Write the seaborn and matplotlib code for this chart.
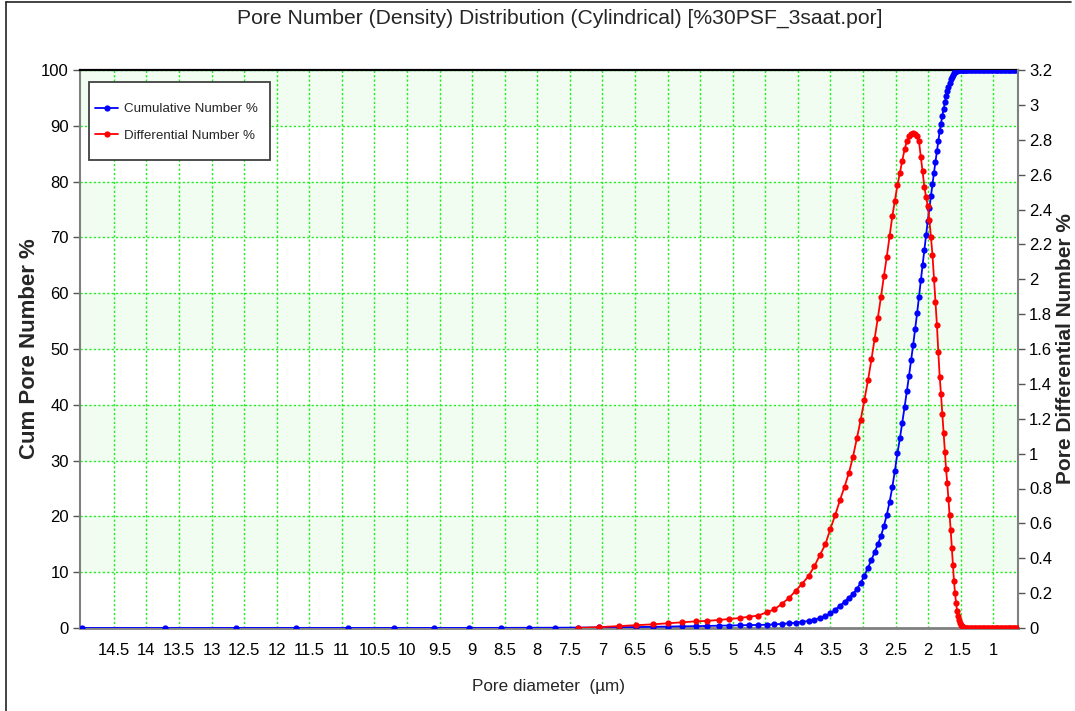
import matplotlib
matplotlib.use("Agg")
import matplotlib.pyplot as plt
from matplotlib import font_manager
from matplotlib.lines import Line2D
from matplotlib.patches import Rectangle
import seaborn as sns
import pandas as pd

# ---------------- data ----------------
diameter = [14.99, 13.71, 12.62, 11.70, 10.90, 10.20, 9.59, 9.05, 8.56, 8.13, 7.73,
            7.38, 7.05, 6.75, 6.48, 6.23, 5.99, 5.78, 5.57, 5.39, 5.21,
            5.05, 4.89, 4.75, 4.61, 4.48, 4.36, 4.24, 4.13, 4.03, 3.93,
            3.835, 3.745, 3.659, 3.577, 3.499, 3.424, 3.352, 3.283, 3.217, 3.154,
            3.093, 3.034, 2.977, 2.923, 2.870, 2.820, 2.771, 2.723, 2.678, 2.634,
            2.591, 2.550, 2.510, 2.471, 2.433, 2.397, 2.361, 2.327, 2.293, 2.261,
            2.229, 2.199, 2.169, 2.140, 2.111, 2.084, 2.057, 2.031, 2.005, 1.981,
            1.956, 1.933, 1.910, 1.887, 1.865, 1.843, 1.822, 1.802, 1.782, 1.762,
            1.743, 1.724, 1.706, 1.688, 1.670, 1.653, 1.636, 1.619, 1.603, 1.587,
            1.571, 1.556, 1.541, 1.526, 1.512, 1.498, 1.484, 1.470, 1.457, 1.444, 1.431, 1.418]

cum_number = [0, 0, 0, 0, 0, 0, 0, 0.01, 0.02, 0.03, 0.05,
              0.07, 0.10, 0.13, 0.17, 0.21, 0.25, 0.29, 0.33, 0.37, 0.41,
              0.44, 0.47, 0.50, 0.53, 0.58, 0.65, 0.74, 0.84, 0.95, 1.10,
              1.28, 1.50, 1.80, 2.15, 2.60, 3.30, 4.00, 4.70, 5.40, 6.10,
              7.0, 8.1, 9.4, 10.8, 12.2, 13.6, 15.0, 16.5, 18.3, 20.3,
              22.6, 25.2, 28.2, 31.3, 34.0, 36.8, 39.6, 42.4, 45.2, 48.0,
              50.8, 53.6, 56.4, 59.4, 62.4, 65.1, 67.8, 70.5, 73.0, 75.2,
              77.4, 79.5, 81.6, 83.6, 85.5, 87.3, 89.0, 90.4, 91.8, 93.0,
              94.2, 95.3, 96.2, 97.0, 97.7, 98.3, 98.8, 99.15, 99.4, 99.6,
              99.75, 99.85, 99.92, 99.96, 99.98, 100, 100, 100, 100, 100, 100, 100]

diff_number = [None, None, None, None, None, None, None, None, None, None, None,
               0.0, 0.005, 0.011, 0.017, 0.021, 0.027, 0.032, 0.038, 0.041, 0.046,
               0.052, 0.057, 0.065, 0.071, 0.090, 0.107, 0.140, 0.174, 0.215, 0.255,
               0.298, 0.355, 0.420, 0.480, 0.570, 0.650, 0.735, 0.810, 0.888, 0.980,
               1.090, 1.195, 1.310, 1.420, 1.540, 1.660, 1.780, 1.900, 2.020, 2.130,
               2.250, 2.360, 2.450, 2.540, 2.610, 2.680, 2.745, 2.790, 2.820, 2.835,
               2.840, 2.835, 2.820, 2.790, 2.700, 2.620, 2.530, 2.470, 2.420, 2.340,
               2.240, 2.140, 2.000, 1.870, 1.740, 1.580, 1.440, 1.340, 1.230, 1.120,
               1.010, 0.910, 0.830, 0.740, 0.650, 0.560, 0.460, 0.360, 0.270, 0.200,
               0.145, 0.100, 0.068, 0.045, 0.028, 0.017, 0.010, 0.006, 0.003, 0.001, 0.0, 0.0]

diameter_tail = [1.40, 1.38, 1.36, 1.34, 1.32, 1.30, 1.28, 1.26, 1.24, 1.22,
                 1.20, 1.18, 1.16, 1.14, 1.12, 1.10, 1.08, 1.06, 1.04, 1.02,
                 1.00, 0.98, 0.96, 0.94, 0.92, 0.90, 0.88, 0.86, 0.84, 0.82,
                 0.80, 0.78, 0.76, 0.74, 0.72, 0.70, 0.68, 0.66, 0.64, 0.62]
cum_tail = [100, 100, 100, 100, 100, 100, 100, 100, 100, 100,
            100, 100, 100, 100, 100, 100, 100, 100, 100, 100,
            100, 100, 100, 100, 100, 100, 100, 100, 100, 100,
            100, 100, 100, 100, 100, 100, 100, 100, 100, 100]
diff_tail = [0, 0, 0, 0, 0, 0, 0, 0, 0, 0,
             0, 0, 0, 0, 0, 0, 0, 0, 0, 0,
             0, 0, 0, 0, 0, 0, 0, 0, 0, 0,
             0, 0, 0, 0, 0, 0, 0, 0, 0, 0]

x_ticks = [14.5, 14, 13.5, 13, 12.5, 12, 11.5, 11, 10.5, 10, 9.5, 9, 8.5, 8, 7.5,
           7, 6.5, 6, 5.5, 5, 4.5, 4, 3.5, 3, 2.5, 2, 1.5, 1]
x_tick_labels = ["14.5", "14", "13.5", "13", "12.5", "12", "11.5", "11", "10.5", "10",
                 "9.5", "9", "8.5", "8", "7.5", "7", "6.5", "6", "5.5", "5", "4.5",
                 "4", "3.5", "3", "2.5", "2", "1.5", "1"]
left_ticks = [0, 10, 20, 30, 40, 50, 60, 70, 80, 90, 100]
right_ticks = [0, 0.2, 0.4, 0.6, 0.8, 1, 1.2, 1.4, 1.6, 1.8, 2, 2.2, 2.4, 2.6, 2.8, 3, 3.2]
right_tick_labels = ["0", "0.2", "0.4", "0.6", "0.8", "1", "1.2", "1.4", "1.6", "1.8",
                     "2", "2.2", "2.4", "2.6", "2.8", "3", "3.2"]

title_text = "Pore Number (Density) Distribution (Cylindrical) [%30PSF_3saat.por]"
x_label = "Pore diameter  (\u00b5m)"
left_label = "Cum Pore Number %"
right_label = "Pore Differential Number %"
series_names = ["Cumulative Number %", "Differential Number %"]

# ---------------- styling ----------------
sns.set_style("white")
available = {f.name for f in font_manager.fontManager.ttflist}
if "Liberation Sans Narrow" in available:
    plt.rcParams["font.family"] = ["Liberation Sans Narrow", "Liberation Sans", "DejaVu Sans"]
    tick_fs, title_fs, xlab_fs, leg_fs = 14.0, 18.0, 14.5, 11.5
else:
    plt.rcParams["font.family"] = ["Liberation Sans", "DejaVu Sans"]
    tick_fs, title_fs, xlab_fs, leg_fs = 12.0, 15.2, 12.3, 9.6
bold_family = ["Liberation Sans", "DejaVu Sans"]

W, H = 1075, 711
fig = plt.figure(figsize=(W / 100, H / 100), dpi=100)
fig.patch.set_facecolor("white")
ax = fig.add_axes([80 / W, 83 / H, 938 / W, 558 / H])
ax.set_facecolor("white")

for lo in [10, 30, 50, 70, 90]:
    ax.axhspan(lo, lo + 10, color="#f0fdf0", zorder=0, lw=0)

df_cum = pd.DataFrame({"diameter": diameter + diameter_tail,
                       "cum": cum_number + cum_tail})
df_diff = pd.DataFrame({"diameter": diameter + diameter_tail,
                        "diff": diff_number + diff_tail}).dropna()

blue = "#0000ff"
red = "#ff0000"
sns.lineplot(data=df_cum, x="diameter", y="cum", ax=ax, color=blue, marker="o",
             markersize=4.5, markeredgewidth=0, linewidth=1.3, sort=False,
             estimator=None, legend=False, zorder=3)

ax2 = ax.twinx()
sns.lineplot(data=df_diff, x="diameter", y="diff", ax=ax2, color=red, marker="o",
             markersize=4.5, markeredgewidth=0, linewidth=1.3, sort=False,
             estimator=None, legend=False, zorder=3)

ax.set_xlim(15.02, 0.62)
ax.set_ylim(0, 100)
ax2.set_ylim(0, 3.2)

ax.set_xticks(x_ticks)
ax.set_xticklabels(x_tick_labels)
ax.set_yticks(left_ticks)
ax.set_yticklabels([str(v) for v in left_ticks])
ax2.set_yticks(right_ticks)
ax2.set_yticklabels(right_tick_labels)

ax.grid(True, color="#22ee22", linestyle=(0, (1.6, 1.6)), linewidth=1.0, zorder=1)
ax.set_axisbelow(True)
ax2.grid(False)

ax.tick_params(axis="both", direction="out", length=5, width=1, color="#555555",
               labelsize=tick_fs, labelcolor="black", pad=3)
ax.tick_params(axis="x", pad=6)
ax2.tick_params(axis="y", direction="out", length=5, width=1, color="#555555",
                labelsize=tick_fs, labelcolor="black", pad=3)

for name, sp in ax.spines.items():
    sp.set_visible(True)
ax.spines["top"].set_color("black")
ax.spines["top"].set_linewidth(1.6)
ax.spines["bottom"].set_color("#808080")
ax.spines["bottom"].set_linewidth(2.0)
ax.spines["left"].set_color("#808080")
ax.spines["left"].set_linewidth(1.5)
ax.spines["right"].set_visible(False)
for name in ["top", "left", "bottom"]:
    ax2.spines[name].set_visible(False)
ax2.spines["right"].set_visible(True)
ax2.spines["right"].set_color("#808080")
ax2.spines["right"].set_linewidth(1.5)

ax.set_xlabel(x_label, fontsize=xlab_fs)
ax.xaxis.set_label_coords(0.5, -(686 - 628) / 558)
ax.xaxis.label.set_va("center")
ax.set_ylabel(left_label, fontsize=16.0, fontweight="bold", family=bold_family)
ax.yaxis.set_label_coords((30 - 80) / 938, 0.5)
ax.yaxis.label.set_va("center")
ax2.set_ylabel(right_label, fontsize=15.0, fontweight="bold", family=bold_family)
ax2.yaxis.set_label_coords((1065 - 80) / 938, 0.5)
ax2.yaxis.label.set_va("center")

fig.text(0.521, 1 - 18 / H, title_text, ha="center", va="center", fontsize=title_fs)

# legend: frame drawn as a rectangle, entries placed inside
fig.add_artist(Rectangle((89 / W, 1 - 160 / H), (270 - 89) / W, (160 - 82) / H,
                         transform=fig.transFigure, facecolor="white",
                         edgecolor="#404040", lw=1.3, zorder=5))
handles = [Line2D([], [], color=blue, marker="o", markersize=4.5, markeredgewidth=0, lw=1.3),
           Line2D([], [], color=red, marker="o", markersize=4.5, markeredgewidth=0, lw=1.3)]
leg = fig.legend(handles, series_names, loc="upper left",
                 bbox_to_anchor=(95 / W, 1 - 103 / H), bbox_transform=fig.transFigure,
                 frameon=False, fontsize=leg_fs, borderpad=0, labelspacing=1.05,
                 handlelength=1.75, handletextpad=0.45, borderaxespad=0)
leg.set_zorder(6)

# window-like frame around the figure
fig.add_artist(Line2D([6 / W, 6 / W], [0, 1 - 2 / H], transform=fig.transFigure, color="#222222", lw=1.2))
fig.add_artist(Line2D([6 / W, 1071 / W], [1 - 2 / H, 1 - 2 / H], transform=fig.transFigure, color="#222222", lw=1.2))

fig.savefig("out.png", dpi=100)
